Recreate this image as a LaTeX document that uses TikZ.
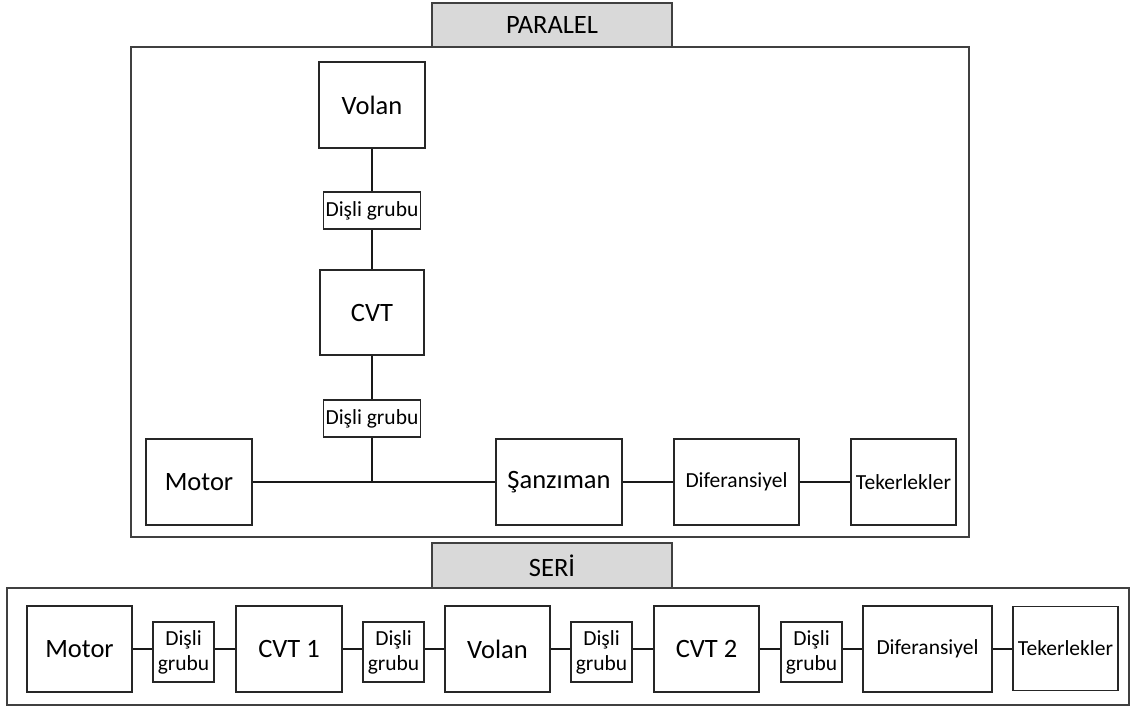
\documentclass[tikz,border=0pt]{standalone}
\usepackage{fontspec}
\setmainfont{Carlito}
\tikzset{
  box/.style={draw=black!85, line width=1.2pt, inner sep=0pt, align=center,
    font=\fontsize{26.5}{32}\selectfont},
  bigbox/.style={box, minimum width=#1, minimum height=86pt},
  smallbox/.style={box, font=\fontsize{21.5}{25}\selectfont},
  gearbox/.style={smallbox, minimum width=97pt, minimum height=37pt},
  gearpair/.style={smallbox, minimum width=61pt, minimum height=60pt},
  frame/.style={draw=black!75, line width=1.5pt},
  tab/.style={draw=black!75, line width=1.5pt, fill=black!15},
  link/.style={draw=black!90, line width=1.2pt},
  tabtext/.style={inner sep=0pt, font=\fontsize{26.5}{32}\selectfont}
}
\begin{document}
\begin{tikzpicture}[x=1pt, y=-1pt]
\useasboundingbox (0,0) rectangle (1131,706);

% ---- parallel arrangement ----
\draw[frame] (131,47) rectangle (969,537);
\draw[tab] (432,3) rectangle (672,47);
\node[tabtext] (ptitle) at (552,25) {PARALEL};

\node[bigbox=106pt] (volanP) at (372,105) {Volan};
\node[gearbox] (dg1P) at (372,210.5) {Dişli grubu};
\node[bigbox=104pt, minimum height=85pt] (cvtP) at (372,312.5) {CVT};
\node[gearbox] (dg2P) at (372,418.5) {Dişli grubu};
\node[bigbox=106pt] (motorP) at (199,482) {Motor};
\node[bigbox=126pt] (sanzP) at (559,482) {Şanzıman};
\node[bigbox=125pt, smallbox] (difP) at (736.5,482) {Diferansiyel};
\node[bigbox=105pt, smallbox] (tekP) at (903.5,482) {Tekerlekler};
\coordinate (joinP) at (372,482);

\draw[link] (volanP) -- (dg1P);
\draw[link] (dg1P) -- (cvtP);
\draw[link] (cvtP) -- (dg2P);
\draw[link] (dg2P.south) -- (joinP);
\draw[link] (motorP.east) -- (joinP) -- (sanzP.west);
\draw[link] (sanzP) -- (difP);
\draw[link] (difP) -- (tekP);

% ---- series arrangement ----
\draw[tab] (432,543) rectangle (672,588);
\node[tabtext] (stitle) at (552,565.5) {SERİ};
\draw[frame] (7,588) rectangle (1129,705);

\node[bigbox=105pt] (motorS) at (79.5,649) {Motor};
\node[gearpair] (dg1S) at (183.5,652) {Dişli\\grubu};
\node[bigbox=106pt] (cvt1S) at (289,649) {CVT 1};
\node[gearpair] (dg2S) at (393.5,652) {Dişli\\grubu};
\node[bigbox=105pt] (volanS) at (497.5,649) {Volan};
\node[gearpair] (dg3S) at (601.5,652) {Dişli\\grubu};
\node[bigbox=105pt] (cvt2S) at (706.5,649) {CVT 2};
\node[gearpair] (dg4S) at (811.5,652) {Dişli\\grubu};
\node[bigbox=129pt, smallbox] (difS) at (927.5,649) {Diferansiyel};
\node[bigbox=105pt, smallbox, minimum height=84pt] (tekS) at (1065.5,648.5) {Tekerlekler};

\draw[link] (motorS.east) -- (motorS.east -| dg1S.west);
\draw[link] (dg1S.east |- cvt1S.west) -- (cvt1S.west);
\draw[link] (cvt1S.east) -- (cvt1S.east -| dg2S.west);
\draw[link] (dg2S.east |- volanS.west) -- (volanS.west);
\draw[link] (volanS.east) -- (volanS.east -| dg3S.west);
\draw[link] (dg3S.east |- cvt2S.west) -- (cvt2S.west);
\draw[link] (cvt2S.east) -- (cvt2S.east -| dg4S.west);
\draw[link] (dg4S.east |- difS.west) -- (difS.west);
\draw[link] (difS.east) -- (difS.east -| tekS.west);
\end{tikzpicture}
\end{document}
